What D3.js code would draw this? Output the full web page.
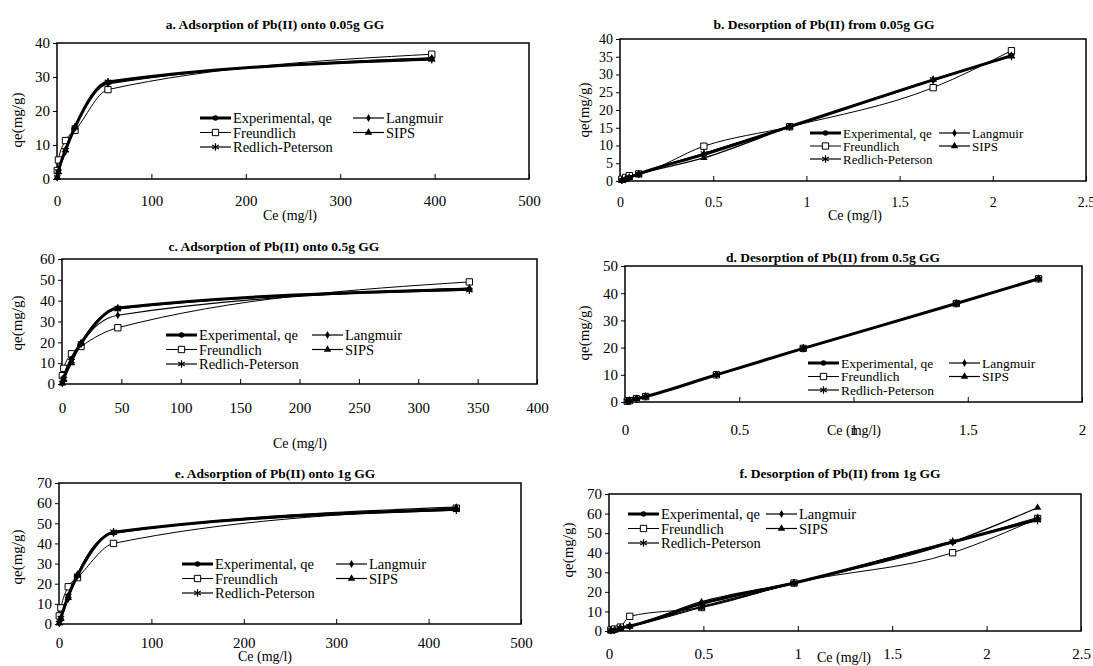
<!DOCTYPE html>
<html>
<head>
<meta charset="utf-8">
<script src="https://cdn.jsdelivr.net/npm/d3@7"></script>
<style>
  body { margin: 0; background: #fff; }
  svg text { font-family: "Liberation Serif", "Times New Roman", serif; }
</style>
</head>
<body>
<svg id="chart" width="1093" height="666" font-family="Liberation Serif"></svg>
<script>
// series names, same order in every panel
const seriesNames = ['Experimental, qe', 'Langmuir', 'Freundlich', 'SIPS', 'Redlich-Peterson']

// a. adsorption onto 0.05g
const ceA = [0.3, 1.5, 9, 19, 54, 397]
const expA = [0.5, 2.2, 8.5, 15.2, 28.5, 35.3]
const lanA = [0.4, 1.8, 8, 15, 28, 35.6]
const freA = [2.5, 5.6, 11.3, 14.3, 26.3, 36.7]
const sipA = [0.4, 2, 8.5, 15.3, 28.4, 35.3]
const rpA = [0.5, 2.2, 8.5, 15.2, 28.6, 35.1]

// b. desorption from 0.05g
const ceB = [0.01, 0.03, 0.05, 0.1, 0.45, 0.91, 1.68, 2.1]
const expB = [0.2, 0.5, 1, 2, 7.5, 15.3, 28.5, 35.3]
const lanB = [0.2, 0.5, 1, 1.9, 7.7, 15.3, 28.3, 35.4]
const freB = [0.5, 1, 1.5, 2, 9.8, 15.3, 26.3, 36.7]
const sipB = [0.2, 0.4, 0.9, 1.8, 6.5, 15.2, 28.5, 35.2]
const rpB = [0.2, 0.5, 1, 2, 7.8, 15.3, 28.6, 35.1]

// c. adsorption onto 0.5g
const ceC = [0.3, 1.5, 8, 16, 47, 343]
const expC = [0.5, 3, 12, 19.5, 36.5, 45.5]
const lanC = [0.5, 2, 11, 19, 33, 46]
const freC = [4, 7.5, 14.5, 18, 27, 49]
const sipC = [0.3, 2, 10, 19.5, 36, 45.8]
const rpC = [0.5, 2.5, 11, 19.5, 36.5, 45]

// d. desorption from 0.5g
const ceD = [0.01, 0.02, 0.05, 0.09, 0.4, 0.78, 1.45, 1.81]
const expD = [0.3, 0.5, 1.2, 2, 10, 19.7, 36.2, 45.3]
const lanD = [0.3, 0.5, 1.2, 2, 10, 19.7, 36.2, 45.3]
const freD = [0.3, 0.5, 1.2, 2, 10, 19.7, 36.2, 45.3]
const sipD = [0.3, 0.5, 1.2, 2, 10, 19.7, 36.2, 45.3]
const rpD = [0.3, 0.5, 1.2, 2, 10, 19.7, 36.2, 45.3]

// e. adsorption onto 1g
const ceE = [0.3, 2, 10, 20, 59, 430]
const expE = [0.5, 3, 14, 24, 45.5, 57]
const lanE = [0.5, 2.5, 12.5, 24.5, 45, 58]
const freE = [4, 8, 18.5, 23, 40, 57.5]
const sipE = [0.4, 2.5, 13, 24.5, 45.3, 56.8]
const rpE = [0.5, 3, 14, 24, 45.8, 56.5]

// f. desorption from 1g
const ceF = [0.01, 0.03, 0.06, 0.11, 0.49, 0.98, 1.82, 2.27]
const expF = [0.3, 0.5, 1.5, 2.5, 14, 24.5, 45.5, 57]
const lanF = [0.3, 0.6, 1.6, 2.6, 15, 24.8, 45.3, 58]
const freF = [0.5, 1, 2, 7.5, 12, 24.5, 40, 57.5]
const sipF = [0.2, 0.4, 1.2, 2.2, 12, 24.3, 45.5, 63]
const rpF = [0.3, 0.5, 1.5, 2.5, 12.5, 24.5, 45.8, 56.5]

const titles = [
  'a. Adsorption of Pb(II) onto 0.05g GG',
  'b. Desorption of Pb(II) from 0.05g GG',
  'c. Adsorption of Pb(II) onto 0.5g GG',
  'd. Desorption of Pb(II) from 0.5g GG',
  'e. Adsorption of Pb(II) onto 1g GG',
  'f. Desorption of Pb(II) from 1g GG'
]

const svg = d3.select('#chart')

// layout of each panel (pixels)
const panels = [
  { title: titles[0], ce: ceA, ys: [expA, lanA, freA, sipA, rpA], xMax: 500, xStep: 100, yMax: 40, yStep: 10,
    box: [57, 43, 529, 179], titleX: 275, titleY: 29, xLabY: 201, ceX: 290, ceY: 215, yLabX: 17, yLabY: 120,
    legX: 200, legY: 118, col2: 153, legFont: 14.5, tickFont: 15 },
  { title: titles[1], ce: ceB, ys: [expB, lanB, freB, sipB, rpB], xMax: 2.5, xStep: 0.5, yMax: 40, yStep: 5,
    box: [620, 39, 1086, 181], titleX: 824, titleY: 29, xLabY: 202, ceX: 855, ceY: 215, yLabX: 584, yLabY: 110,
    legX: 810, legY: 133, col2: 129, legFont: 13, tickFont: 14 },
  { title: titles[2], ce: ceC, ys: [expC, lanC, freC, sipC, rpC], xMax: 400, xStep: 50, yMax: 60, yStep: 10,
    box: [62, 259, 537, 384], titleX: 274, titleY: 251, xLabY: 408, ceX: 300, ceY: 443, yLabX: 17, yLabY: 323,
    legX: 166, legY: 335, col2: 146, legFont: 14.5, tickFont: 15 },
  { title: titles[3], ce: ceD, ys: [expD, lanD, freD, sipD, rpD], xMax: 2, xStep: 0.5, yMax: 50, yStep: 10,
    box: [625, 266, 1082, 402], titleX: 833, titleY: 262, xLabY: 430, ceX: 854, ceY: 430, yLabX: 584, yLabY: 333,
    legX: 808, legY: 363, col2: 141, legFont: 13.5, tickFont: 15 },
  { title: titles[4], ce: ceE, ys: [expE, lanE, freE, sipE, rpE], xMax: 500, xStep: 100, yMax: 70, yStep: 10,
    box: [59, 483, 521, 624], titleX: 275, titleY: 478, xLabY: 643, ceX: 265, ceY: 656, yLabX: 17, yLabY: 557,
    legX: 182, legY: 564, col2: 154, legFont: 14.5, tickFont: 15 },
  { title: titles[5], ce: ceF, ys: [expF, lanF, freF, sipF, rpF], xMax: 2.5, xStep: 0.5, yMax: 70, yStep: 10,
    box: [609, 494, 1081, 631], titleX: 840, titleY: 478, xLabY: 654, ceX: 844, ceY: 657, yLabX: 568, yLabY: 550,
    legX: 628, legY: 514, col2: 138, legFont: 14.5, tickFont: 15 }
]

const symbols = [d3.symbolCircle, d3.symbolDiamond, d3.symbolSquare, d3.symbolTriangle, d3.symbolAsterisk]
const symSize = [22, 18, 40, 24, 40]
const widths = [3, 1.2, 1, 1.2, 1.2]

function drawMarker(g, i, x, y) {
  const p = g.append('path')
    .attr('d', d3.symbol().type(symbols[i]).size(symSize[i])())
    .attr('transform', `translate(${x},${y})`)
  if (i === 2) p.attr('fill', '#fff').attr('stroke', '#000').attr('stroke-width', 1)
  else if (i === 4) p.attr('fill', 'none').attr('stroke', '#000').attr('stroke-width', 1.2)
  else p.attr('fill', '#000')
}

panels.forEach(p => {
  const [x0, y0, x1, y1] = p.box
  const x = d3.scaleLinear().domain([0, p.xMax]).range([x0, x1])
  const y = d3.scaleLinear().domain([0, p.yMax]).range([y1, y0])
  const g = svg.append('g')

  // title
  g.append('text').attr('x', p.titleX).attr('y', p.titleY)
    .attr('text-anchor', 'middle').attr('font-weight', 'bold').attr('font-size', 13.5)
    .text(p.title)

  // y axis: ticks outside
  const yAxis = d3.axisLeft(y).tickValues(d3.range(0, p.yMax + p.yStep / 2, p.yStep))
    .tickSize(4).tickSizeOuter(0).tickFormat(d3.format('~g'))
  g.append('g').attr('transform', `translate(${x0},0)`).call(yAxis)
    .attr('font-family', null).attr('font-size', p.tickFont)
    .call(a => a.select('.domain').remove())

  // x axis: ticks inside
  const xAxis = d3.axisBottom(x).tickValues(d3.range(0, p.xMax + p.xStep / 2, p.xStep))
    .tickSize(-5).tickSizeOuter(0).tickFormat(d3.format('~g')).tickPadding(0)
  const xg = g.append('g').attr('transform', `translate(0,${y1})`).call(xAxis)
    .attr('font-family', null).attr('font-size', p.tickFont)
  xg.select('.domain').remove()
  xg.selectAll('text').attr('y', p.xLabY - y1).attr('dy', '0.35em')

  // frame
  g.append('rect').attr('x', x0).attr('y', y0).attr('width', x1 - x0).attr('height', y1 - y0)
    .attr('fill', 'none').attr('stroke', '#000').attr('stroke-width', 1.5)

  // axis titles
  g.append('text').attr('x', p.ceX).attr('y', p.ceY).attr('dy', '0.35em')
    .attr('text-anchor', 'middle').attr('font-size', 14).text('Ce (mg/l)')
  g.append('text').attr('transform', `translate(${p.yLabX},${p.yLabY}) rotate(-90)`)
    .attr('text-anchor', 'middle').attr('dy', '0.35em').attr('font-size', 15).text('qe(mg/g)')

  // series, experimental drawn last
  const line = d3.line().x(d => x(d[0])).y(d => y(d[1])).curve(d3.curveMonotoneX)
  const order = [2, 1, 3, 4, 0]
  order.forEach(i => {
    const pts = p.ce.map((c, k) => [c, p.ys[i][k]])
    g.append('path').datum(pts).attr('d', line)
      .attr('fill', 'none').attr('stroke', '#000').attr('stroke-width', widths[i])
    pts.forEach(d => drawMarker(g, i, x(d[0]), y(d[1])))
  })

  // legend, two columns
  const leg = g.append('g').attr('transform', `translate(${p.legX},${p.legY})`)
  const rowH = p.legFont
  seriesNames.forEach((name, i) => {
    const col = i % 2, row = Math.floor(i / 2)
    const lx = col * p.col2, ly = row * rowH
    leg.append('line').attr('x1', lx).attr('x2', lx + 31).attr('y1', ly).attr('y2', ly)
      .attr('stroke', '#000').attr('stroke-width', widths[i])
    drawMarker(leg, i, lx + 15.5, ly)
    leg.append('text').attr('x', lx + 33).attr('y', ly).attr('dy', '0.35em')
      .attr('font-size', p.legFont).text(name)
  })
})
</script>
</body>
</html>
